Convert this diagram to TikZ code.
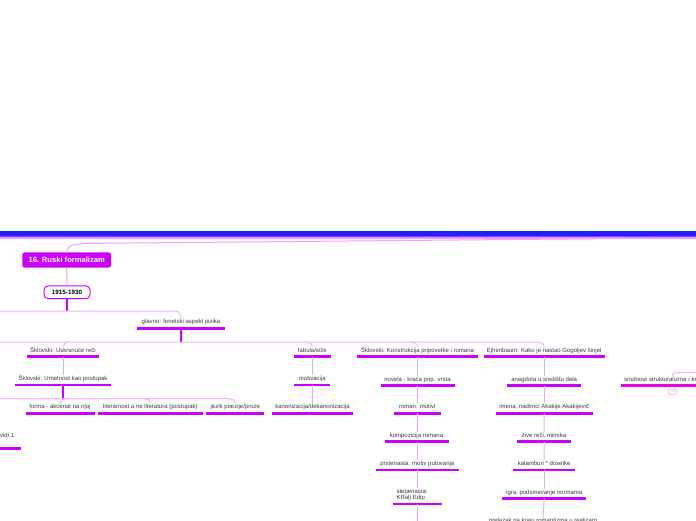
\documentclass[tikz,border=0pt]{standalone}
\usepackage{fontspec}
\setmainfont{Liberation Sans}
\definecolor{mag}{HTML}{CC00FF}
\definecolor{txt}{HTML}{3A3A3A}
\definecolor{chainc}{HTML}{EBA6F7}
\definecolor{busc}{HTML}{EDB2F8}
\definecolor{pinkmag}{HTML}{EE00EE}
\definecolor{badgec}{HTML}{F09CF5}
\definecolor{bandblue}{HTML}{0A2AFF}
\definecolor{bandblueb}{HTML}{3C14FF}
\definecolor{bandpurple}{HTML}{9A30FF}
\definecolor{bandlav}{HTML}{DC9CFA}
\definecolor{titlefill}{HTML}{CC00F5}
\newcommand\ulnode[6][]{%
  \node[item,minimum width=#5pt,#1] (#2) at (#3,#4) {#6};
  \draw[uline] (#2.south west) -- (#2.south east);}
\begin{document}
\begin{tikzpicture}[x=1pt,y=-1pt,
  item/.style={inner xsep=0pt,inner ysep=0pt,text height=5pt,text depth=4.5pt,
    font=\fontsize{6}{7.2}\selectfont,text=txt,anchor=south},
  uline/.style={draw=mag,line width=2.6pt},
  chain/.style={draw=chainc,line width=1pt},
  bus/.style={draw=busc,line width=1pt},
  stem/.style={draw=mag,line width=1.4pt},
  titlebox/.style={fill=titlefill,rounded corners=2.5pt,minimum width=88.7pt,
    minimum height=15.4pt,inner sep=0pt,text=white,font=\fontsize{7.6}{9}\selectfont\bfseries},
  datebox/.style={draw=mag,line width=1pt,fill=white,rounded corners=4pt,
    minimum width=46pt,minimum height=12.7pt,inner sep=0pt,text=black,
    font=\fontsize{6.3}{7.5}\selectfont\bfseries},
  badge/.style={draw=badgec,line width=0.6pt,rounded corners=1.5pt,minimum width=8.4pt,
    minimum height=5.3pt,inner sep=0pt,text=badgec,font=\fontsize{3.5}{4}\selectfont}]
\useasboundingbox (0,0) rectangle (696,520);
% top bands
\fill[top color=bandblue,bottom color=bandblueb] (0,231.3) rectangle (696,235.5);
\fill[bandpurple] (0,235.5) rectangle (696,237.1);
\fill[bandlav] (0,237.1) rectangle (696,238.6);

% nodes
\node[titlebox] (title) at (66.7,260) {16. Ruski formalizam};
\node[datebox] (n1915) at (67,292.3) {1915-1930};

\ulnode{glavno}{181}{328.3}{87}{glavno: fonetski aspekt jezika}
\ulnode{usk}{63}{356.7}{72}{Šklovski: Uskrsnuće reči}
\ulnode{umet}{63}{385}{96}{Šklovski: Umetnost kao postupak}
\ulnode{forma}{60}{413.3}{68.6}{forma - akcenat na njoj}
\ulnode{liter}{150.3}{413.3}{104}{literarnost a ne literatura (postupak)}
\ulnode{jezik}{235.3}{413.3}{57.3}{jezik poezije/proze}
\ulnode{fabula}{312.3}{356.7}{36.7}{fabula/siže}
\ulnode{motiv}{312.3}{385}{35.3}{motivacija}
\ulnode{kanon}{312.5}{413.3}{81}{kanonizacija/dekanonizacija}
\ulnode{konstr}{417.5}{356.7}{120.4}{Šklovski: Konstrukcija pripovetke i romana}
\ulnode{novela}{417.5}{385.7}{73.6}{novela - kraća prip. vrsta}
\ulnode{roman}{417.3}{413.3}{46.7}{roman: motivi}
\ulnode{kompoz}{417.3}{441.7}{63.3}{kompozicija romana:}
\ulnode{prsten}{417.3}{470}{82.7}{prstenasta: motiv putovanja}
\ulnode[text width=42pt,align=left,text depth=10.7pt,font=\fontsize{6}{6.2}\selectfont]{stepen}{417.5}{504}{48.4}{stepenasta:\\KRalj Edip}
\ulnode{ejh}{544.2}{356.7}{120.3}{Ejhenbaum: Kako je nastao Gogoljev šinjel}
\ulnode{aneg}{544.2}{385.7}{73.7}{anegdota u središtu dela}
\ulnode{imena}{544.2}{413.3}{97}{imena, nadimci Akakije Akakijevič}
\ulnode{zive}{544}{441.7}{53.4}{žive reči, mimika}
\ulnode{kalam}{544.2}{470}{61.7}{kalamburi * dosetke}
\ulnode{igra}{544.2}{498.7}{83.7}{igra, podsmevanje normama}
\ulnode{prel}{543}{527.4}{110}{prelazak na kraju romantizma u realizam}
\node[item,minimum width=102pt,text width=96pt,align=left] (srod) at (672,385.7) {srodnost strukturalizma i kritike};
\draw[draw=pinkmag,line width=2.6pt] (srod.south west) -- (srod.south east);
\node[badge] (cnt) at (672.5,391.7) {10};
\node[item,anchor=south east,text depth=11pt] (vidi) at (16,448.3) {vidi 1.};
\draw[uline] ([xshift=-40pt]vidi.south west) -- ([xshift=5.3pt]vidi.south east);

% free ends
\coordinate (rootend) at (698,237.8);
\coordinate (srodbus) at (698,372.5);
\coordinate (stepdown) at (417.5,525);

% root connector
\draw[chain] (title.north) to[out=90,in=188] (86,243.4) -- (rootend);
\draw[chain] (title.south) -- (n1915.north);

% bus 1
\draw[stem] (n1915.south) -- (67,311);
\draw[bus] (-2,311) -- (175,311) to[out=0,in=90] (glavno.north);

% bus 2
\draw[stem] (glavno.south) -- (181,342);
\draw[bus] (-2,342) -- (538,342) to[out=0,in=90] (ejh.north);
\draw[bus] (69,342) to[out=180,in=90] (usk.north);
\draw[bus] (306,342) to[out=0,in=90] (fabula.north);
\draw[bus] (411,342) to[out=0,in=90] (konstr.north);

% bus 3
\draw[stem] (umet.south) -- (63,398.5);
\draw[bus] (-2,398.5) -- (229,398.5) to[out=0,in=90] (jezik.north);
\draw[bus] (66,398.5) to[out=180,in=90] (forma.north);
\draw[bus] (144,398.5) to[out=0,in=90] (liter.north);

% chains
\draw[chain] (usk.south) -- (umet.north);
\draw[chain] (fabula.south) -- (motiv.north);
\draw[chain] (motiv.south) -- (kanon.north);
\draw[chain] (konstr.south) -- (novela.north);
\draw[chain] (novela.south) -- (roman.north);
\draw[chain] (roman.south) -- (kompoz.north);
\draw[chain] (kompoz.south) -- (prsten.north);
\draw[chain] (prsten.south) -- (stepen.north);
\draw[chain] (stepen.south) -- (stepdown);
\draw[chain] (ejh.south) -- (aneg.north);
\draw[chain] (aneg.south) -- (imena.north);
\draw[chain] (imena.south) -- (zive.north);
\draw[chain] (zive.south) -- (kalam.north);
\draw[chain] (kalam.south) -- (igra.north);
\draw[chain] (igra.south) -- (prel.north);

% right branch
\draw[bus] (srodbus) -- (679,372.5) to[out=180,in=90] (srod.north);
\end{tikzpicture}
\end{document}
